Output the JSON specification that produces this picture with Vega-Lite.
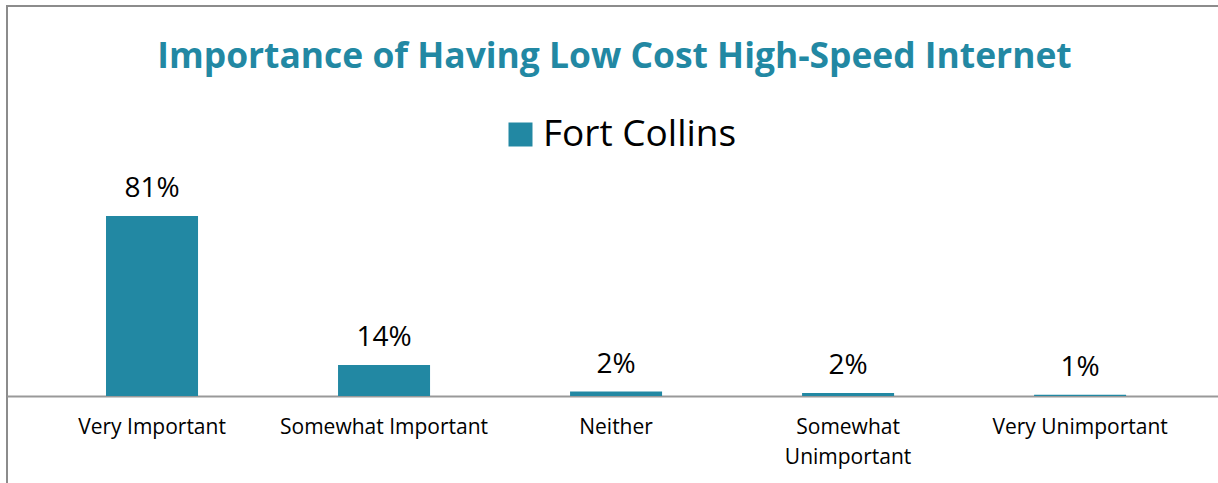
{
  "$schema": "https://vega.github.io/schema/vega-lite/v6.json",
  "width": 1215,
  "height": 490,
  "autosize": {"type": "none"},
  "padding": {"left": 7, "top": 6, "right": 0, "bottom": 0},
  "background": "white",
  "title": {
    "text": "Importance of Having Low Cost High-Speed Internet",
    "font": "Open Sans",
    "fontSize": 35.4,
    "fontWeight": "bold",
    "color": "#2288a3",
    "anchor": "middle",
    "frame": "group",
    "baseline": "alphabetic",
    "offset": -97
  },
  "data": {
    "values": [
      {"category": "Very Important", "value": 81, "label": "81%", "series": "Fort Collins"},
      {"category": "Somewhat Important", "value": 14, "label": "14%", "series": "Fort Collins"},
      {"category": "Neither", "value": 2, "label": "2%", "series": "Fort Collins"},
      {"category": "Somewhat Unimportant", "value": 1.4, "label": "2%", "series": "Fort Collins"},
      {"category": "Very Unimportant", "value": 0.6, "label": "1%", "series": "Fort Collins"}
    ]
  },
  "encoding": {
    "x": {
      "field": "category",
      "type": "nominal",
      "sort": null,
      "scale": {"paddingInner": 0.6034, "paddingOuter": 0.42, "align": 0.508},
      "axis": {
        "title": null,
        "orient": "bottom",
        "offset": -100,
        "labelAngle": 0,
        "ticks": false,
        "domainColor": "#999999",
        "domainWidth": 2,
        "labelFont": "Open Sans",
        "labelFontSize": 21,
        "labelColor": "black",
        "labelPadding": 20,
        "labelLineHeight": 30,
        "labelLimit": 0,
        "labelExpr": "datum.label == 'Somewhat Unimportant' ? ['Somewhat', 'Unimportant'] : datum.label"
      }
    },
    "y": {
      "field": "value",
      "type": "quantitative",
      "scale": {"domain": [-45, 175.5], "nice": false, "zero": false},
      "axis": null
    }
  },
  "layer": [
    {
      "mark": {"type": "bar"},
      "encoding": {
        "color": {
          "field": "series",
          "type": "nominal",
          "scale": {"range": ["#2288a3"]},
          "legend": {
            "orient": "none",
            "legendX": 495,
            "legendY": 110,
            "title": null,
            "symbolType": "square",
            "symbolSize": 576,
            "symbolStrokeWidth": 0,
            "labelFont": "Open Sans",
            "labelFontSize": 37,
            "labelColor": "black",
            "labelOffset": 4,
            "labelLimit": 0
          }
        }
      }
    },
    {
      "mark": {"type": "text", "baseline": "alphabetic", "dy": -19, "font": "Open Sans", "fontSize": 28, "color": "black"},
      "encoding": {"text": {"field": "label"}}
    }
  ],
  "config": {
    "view": {"stroke": "#8c8c8c", "strokeWidth": 2},
    "axis": {"grid": false}
  }
}
